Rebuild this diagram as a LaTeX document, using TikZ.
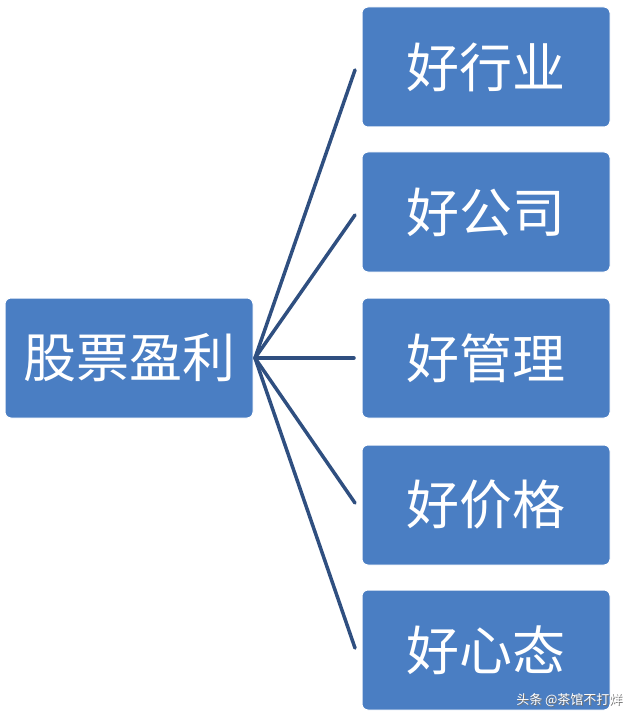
\documentclass[tikz,border=0pt]{standalone}
\usepackage{fontspec}
\newfontfamily\cjk{Noto Sans CJK SC}
\begin{document}
\begin{tikzpicture}[x=1pt,y=-1pt,
  box/.style={draw=white,line width=1pt,fill={rgb,255:red,74;green,126;blue,195},rounded corners=6pt,minimum width=248pt,minimum height=120pt,text=white,font=\cjk\fontsize{53}{56}\selectfont},
  conn/.style={draw={rgb,255:red,47;green,79;blue,128},line width=3.5pt,line cap=round},
  wmark/.style={font=\cjk\fontsize{13}{15}\selectfont,anchor=east}]
\useasboundingbox (0,0) rectangle (636,722);
\node[box] (L) at (129,358) {股票盈利};
\node[box] (a) at (486,67) {好行业};
\node[box] (b) at (486,212) {好公司};
\node[box] (c) at (486,358) {好管理};
\node[box] (d) at (486,505) {好价格};
\node[box] (e) at (486,650) {好心态};
\coordinate (o) at (255,358);
\coordinate (pa) at (355,70);
\coordinate (pb) at (355,215);
\coordinate (pc) at (354,358);
\coordinate (pd) at (355,503);
\coordinate (pe) at (355,648);
\foreach \p in {pa,pb,pc,pd,pe} \draw[conn] (o) -- (\p);
\node[wmark,text=black!55] (ws) at (627,701) {头条 @茶馆不打烊};
\node[wmark,text=white] (w) at (626,700) {头条 @茶馆不打烊};
\end{tikzpicture}
\end{document}
